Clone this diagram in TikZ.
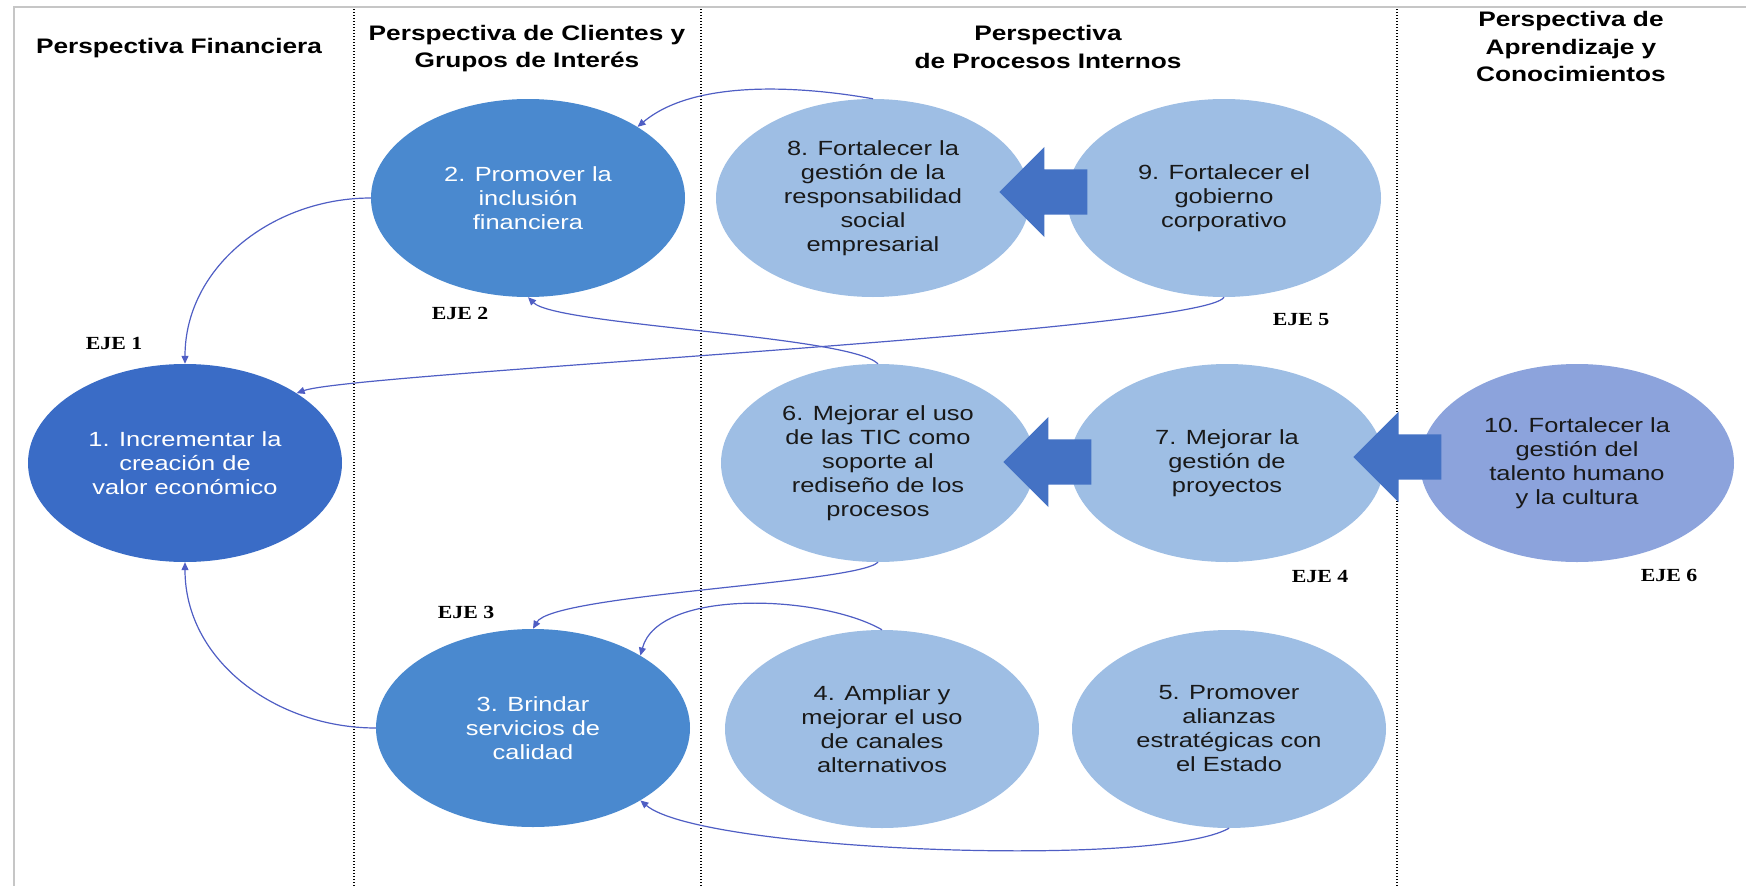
\documentclass[tikz,border=0pt]{standalone}
\usepackage{fontspec}
\usetikzlibrary{shapes.geometric,shapes.arrows,arrows.meta}
\newfontfamily\headfont[FakeStretch=1.25]{Liberation Sans}
\newfontfamily\objfont[FakeStretch=1.24]{Liberation Sans}
\newfontfamily\ejefont[FakeStretch=1.18]{Liberation Serif}
\definecolor{cfin}{HTML}{3A6CC6}
\definecolor{ccli}{HTML}{4A89CF}
\definecolor{cproc}{HTML}{9EBEE4}
\definecolor{clearn}{HTML}{8CA3DC}
\definecolor{cbig}{HTML}{4472C4}
\definecolor{clink}{HTML}{4F5EC4}
\begin{document}
\begin{tikzpicture}[x=1pt, y=1pt,
    obj/.style={ellipse, minimum width=314pt, minimum height=198pt, inner sep=0pt,
      align=center, font=\objfont\fontsize{20.5}{24}\selectfont},
    finobj/.style={obj, fill=cfin, text=white},
    cliobj/.style={obj, fill=ccli, text=white},
    procobj/.style={obj, fill=cproc, text=black!90},
    learnobj/.style={obj, fill=clearn, text=black!90},
    head/.style={align=center, inner sep=0pt, font=\headfont\bfseries\fontsize{21}{27.5}\selectfont},
    eje/.style={inner sep=0pt, font=\ejefont\bfseries\fontsize{18.5}{20}\selectfont},
    bigarrow/.style={single arrow, shape border rotate=180, fill=cbig, anchor=tip,
      inner xsep=0pt, inner ysep=22.5pt, minimum height=88pt,
      single arrow head extend=22.5pt},
    link/.style={draw=clink, line width=1.2pt, -{Triangle[length=8pt,width=7pt]}},
    sep/.style={line width=1.3pt, dash pattern=on 1.3pt off 1.7pt}
  ]
  \useasboundingbox (0,0) rectangle (1746,-886);
  \draw[gray!45, line width=2pt] (13,-7) -- (1746,-7);
  \draw[gray!45, line width=2pt] (14,-7) -- (14,-886);
  \foreach \x in {354,701,1397}
    \draw[sep] (\x,-9) -- (\x,-886);

  \node[head] (hfin) at (179,-48) {Perspectiva Financiera};
  \node[head] (hcli) at (527,-48.5) {Perspectiva de Clientes y\\Grupos de Interés};
  \node[head] (hpro) at (1048,-47) {Perspectiva\\de Procesos Internos};
  \node[head] (hapr) at (1571,-46.5) {Perspectiva de\\Aprendizaje y\\Conocimientos};

  \node[finobj] (n1) at (185,-463) {1. Incrementar la\\creación de\\valor económico};
  \node[cliobj] (n2) at (528,-198) {2. Promover la\\inclusión\\financiera};
  \node[cliobj] (n3) at (533,-728) {3. Brindar\\servicios de\\calidad};
  \node[procobj] (n4) at (882,-729) {4. Ampliar y\\mejorar el uso\\de canales\\alternativos};
  \node[procobj] (n5) at (1229,-729) {5. Promover\\alianzas\\estratégicas con\\el Estado};
  \node[procobj] (n6) at (878,-463) {6. Mejorar el uso\\de las TIC como\\soporte al\\rediseño de los\\procesos};
  \node[procobj] (n7) at (1227,-463) {7. Mejorar la\\gestión de\\proyectos};
  \node[procobj] (n8) at (873,-198) {8. Fortalecer la\\gestión de la\\responsabilidad\\social\\empresarial};
  \node[procobj] (n9) at (1224,-198) {9. Fortalecer el\\gobierno\\corporativo};
  \node[learnobj] (n10) at (1577,-463) {10. Fortalecer la\\gestión del\\talento humano\\y la cultura};

  \node[eje] (e1) at (114,-343) {EJE 1};
  \node[eje] (e2) at (460,-313) {EJE 2};
  \node[eje] (e3) at (466,-612) {EJE 3};
  \node[eje] (e4) at (1320,-576) {EJE 4};
  \node[eje] (e5) at (1301,-320) {EJE 5};
  \node[eje] (e6) at (1669,-575) {EJE 6};

  % block arrows between the objectives
  \node[bigarrow] (a98) at (999,-192) {};
  \node[bigarrow] (a76) at (1003,-462) {};
  \node[bigarrow] (a107) at (1353,-457) {};

  % thin links
  \draw[link] (n2.west) to[out=180, in=90] (n1.north);
  \draw[link] (n3.west) to[out=180, in=-90] (n1.south);
  \draw[link] (n8.north) to[out=170, in=40, looseness=0.8] (n2.33);
  \draw[link] (n6.north) to[out=135, in=-45, distance=40pt] (n2.south);
  \draw[link] (n9.south) to[out=-120, in=20, out distance=40pt, in distance=60pt] (n1.32);
  \draw[link] (n6.south) to[out=-135, in=60, out distance=30pt, in distance=40pt] (n3.north);
  \draw[link] (n4.north) to[out=150, in=75, distance=70pt] (n3.34);
  \draw[link] (n5.south) to[out=-150, in=-40, distance=80pt] (n3.-34);
\end{tikzpicture}
\end{document}
